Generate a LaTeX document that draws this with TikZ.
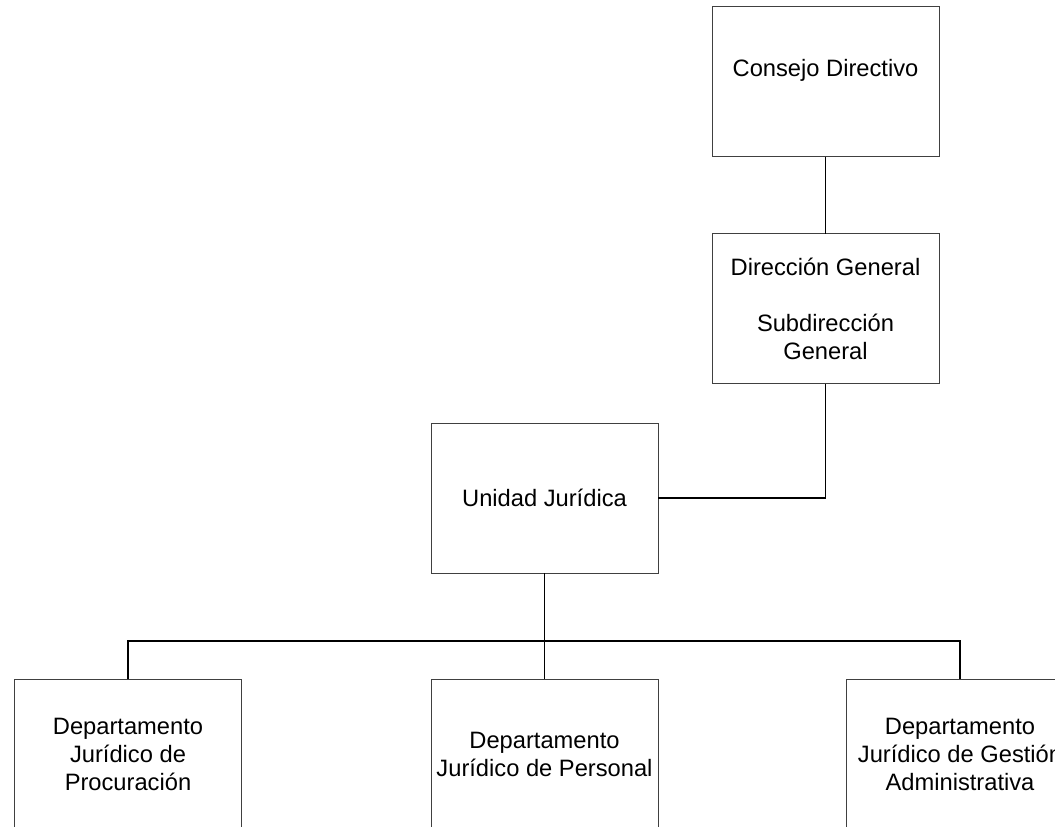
\documentclass[tikz,border=0pt]{standalone}
\usepackage{fontspec}
\setmainfont{Liberation Sans}
\begin{document}
\begin{tikzpicture}[x=1pt,y=-1pt,
  box/.style={draw=black!75, line width=1pt, rectangle, minimum width=227pt, minimum height=150pt,
    inner sep=0pt, outer sep=0pt, align=center, font=\fontsize{23.7}{28}\selectfont},
  conn/.style={draw=black, line width=1.3pt}]
\useasboundingbox (0,0) rectangle (1055,827);
\fill[white] (0,0) rectangle (1055,827);
\clip (0,0) rectangle (1055,827);
\node[box] (cd) at (825.5,81.5) {Consejo Directivo\\\mbox{}};
\node[box] (dg) at (825.5,308.5) {Dirección General\\[28pt]Subdirección\\General};
\node[box] (uj) at (544.5,498) {Unidad Jurídica};
\node[box] (d1) at (128,754) {Departamento\\Jurídico de\\Procuración};
\node[box] (d2) at (544.5,754) {Departamento\\Jurídico de Personal};
\node[box] (d3) at (960,754) {Departamento\\Jurídico de Gestión\\Administrativa};
\coordinate (bus) at (544.5,641);
\draw[conn] (cd.south) -- (dg.north);
\draw[conn] (dg.south) |- (uj.east);
\draw[conn] (uj.south) -- (d2.north);
\draw[conn] (d1.north) |- (bus) -| (d3.north);
\end{tikzpicture}
\end{document}
